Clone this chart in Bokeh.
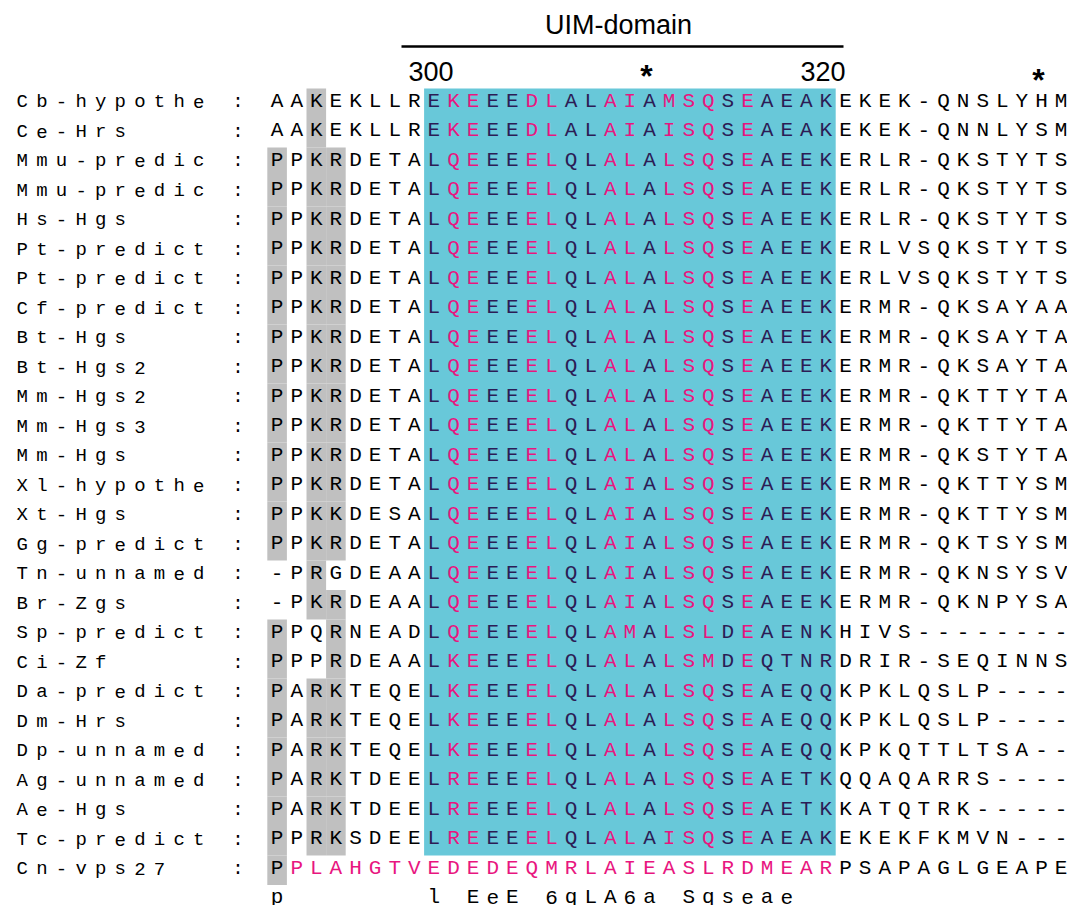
from bokeh.plotting import figure
from bokeh.models import Range1d, ColumnDataSource
from bokeh.embed import file_html
from bokeh.resources import INLINE
from bokeh.core.properties import value

# ---------------- data ----------------
names = ["Cb-hypothe", "Ce-Hrs", "Mmu-predic", "Mmu-predic", "Hs-Hgs",
         "Pt-predict", "Pt-predict", "Cf-predict", "Bt-Hgs", "Bt-Hgs2",
         "Mm-Hgs2", "Mm-Hgs3", "Mm-Hgs", "Xl-hypothe", "Xt-Hgs",
         "Gg-predict", "Tn-unnamed", "Br-Zgs", "Sp-predict", "Ci-Zf",
         "Da-predict", "Dm-Hrs", "Dp-unnamed", "Ag-unnamed", "Ae-Hgs",
         "Tc-predict", "Cn-vps27"]

sequences = [
    "AAKEKLLREKEEEDLALAIAMSQSEAEAKEKEK-QNSLYHM",
    "AAKEKLLREKEEEDLALAIAISQSEAEAKEKEK-QNNLYSM",
    "PPKRDETALQEEEELQLALALSQSEAEEKERLR-QKSTYTS",
    "PPKRDETALQEEEELQLALALSQSEAEEKERLR-QKSTYTS",
    "PPKRDETALQEEEELQLALALSQSEAEEKERLR-QKSTYTS",
    "PPKRDETALQEEEELQLALALSQSEAEEKERLVSQKSTYTS",
    "PPKRDETALQEEEELQLALALSQSEAEEKERLVSQKSTYTS",
    "PPKRDETALQEEEELQLALALSQSEAEEKERMR-QKSAYAA",
    "PPKRDETALQEEEELQLALALSQSEAEEKERMR-QKSAYTA",
    "PPKRDETALQEEEELQLALALSQSEAEEKERMR-QKSAYTA",
    "PPKRDETALQEEEELQLALALSQSEAEEKERMR-QKTTYTA",
    "PPKRDETALQEEEELQLALALSQSEAEEKERMR-QKTTYTA",
    "PPKRDETALQEEEELQLALALSQSEAEEKERMR-QKSTYTA",
    "PPKRDETALQEEEELQLAIALSQSEAEEKERMR-QKTTYSM",
    "PPKKDESALQEEEELQLAIALSQSEAEEKERMR-QKTTYSM",
    "PPKRDETALQEEEELQLAIALSQSEAEEKERMR-QKTSYSM",
    "-PRGDEAALQEEEELQLAIALSQSEAEEKERMR-QKNSYSV",
    "-PKRDEAALQEEEELQLAIALSQSEAEEKERMR-QKNPYSA",
    "PPQRNEADLQEEEELQLAMALSLDEAENKHIVS--------",
    "PPPRDEAALKEEEELQLALALSMDEQTNRDRIR-SEQINNS",
    "PARKTEQELKEEEELQLALALSQSEAEQQKPKLQSLP----",
    "PARKTEQELKEEEELQLALALSQSEAEQQKPKLQSLP----",
    "PARKTEQELKEEEELQLALALSQSEAEQQKPKQTTLTSA--",
    "PARKTDEELREEEELQLALALSQSEAETKQQAQARRS----",
    "PARKTDEELREEEELQLALALSQSEAETKKATQTRK-----",
    "PPRKSDEELREEEELQLALAISQSEAEAKEKEKFKMVN---",
    "PPLAHGTVEDEDEQMRLAIEASLRDMEARPSAPAGLGEAPE",
]

consensus = "p       l EeE 6qLA6a Sqseae"

# shaded (grey) alignment columns for each row
grey_cols = [[2], [2]] + [[0, 2, 3]] * 14 + [[2], [2, 3], [0, 3], [0, 3]] \
    + [[0, 2, 3]] * 6 + [[0]]

# UIM domain block (alignment columns) and the rows it covers
uim_start, uim_end = 8, 29
uim_rows = 26
# conserved positions inside the UIM (offsets from uim_start)
conserved = [1, 2, 5, 6, 9, 10, 12, 13, 14, 16]
# outgroup row: whole UIM stretch coloured
outgroup_row = 26
outgroup_span = (1, 29)

domain_title = "UIM-domain"
ruler_labels = ["300", "*", "320", "*"]
ruler_cols = [8, 19, 28, 39]

# ---------------- layout ----------------
W, H = 1067, 905
PX, PY = 19.6, 29.5          # pixels per column / row
X0, Y0 = 12.0, 102.75        # pixel of column 0 left edge / row 0 centre
SEQ_OFF = 13                 # sequence starts 13 character cells after the name


def dx(px):
    return (px - X0) / PX


def dy(py):
    return (py - Y0) / PY


def shift(fs):
    # empirical drop of the rendered baseline below the requested one
    return 0.35 * fs


p = figure(width=W, height=H, output_backend="svg", toolbar_location=None,
           x_axis_type=None, y_axis_type=None, min_border=0,
           x_range=Range1d(dx(0), dx(W)),
           y_range=Range1d(dy(H), dy(0)))
p.outline_line_color = None
p.xgrid.visible = False
p.ygrid.visible = False
p.background_fill_color = "white"
p.border_fill_color = "white"

CYAN = "#68C8D9"
PINK = "#E8167F"
NAVY = "#2C1C55"
GREY = "#C0C0C0"
SEQ_FONT = "Liberation Mono"
SEQ_FS = 21
NAME_FS = 19

# cyan UIM block
p.quad(left=[SEQ_OFF + uim_start], right=[SEQ_OFF + uim_end],
       top=[-0.5], bottom=[uim_rows - 0.5],
       fill_color=CYAN, line_color=None)

# grey shaded cells
gl, gr, gt, gb = [], [], [], []
for r, cols in enumerate(grey_cols):
    for c in cols:
        gl.append(SEQ_OFF + c); gr.append(SEQ_OFF + c + 1)
        gt.append(r - 0.5); gb.append(r + 0.5)
p.quad(left=gl, right=gr, top=gt, bottom=gb, fill_color=GREY, line_color=None)

# residues
BASE = (5.5 - shift(SEQ_FS)) / PY
xs, ys, ts, cs = [], [], [], []
for r, seq in enumerate(sequences):
    for c, ch in enumerate(seq):
        col = "black"
        if r < uim_rows and uim_start <= c < uim_end:
            col = PINK if (c - uim_start) in conserved else NAVY
        if r == outgroup_row and outgroup_span[0] <= c < outgroup_span[1]:
            col = PINK
        xs.append(SEQ_OFF + c + 0.5); ys.append(r + BASE)
        ts.append(ch); cs.append(col)
for c, ch in enumerate(consensus):
    if ch != " ":
        xs.append(SEQ_OFF + c + 0.5); ys.append(len(sequences) + BASE)
        ts.append(ch); cs.append("black")
src = ColumnDataSource(dict(x=xs, y=ys, text=ts, color=cs))
p.text(x="x", y="y", text="text", source=src, text_color="color",
       text_font=value(SEQ_FONT), text_font_size=f"{SEQ_FS}px",
       text_align="center", text_baseline="alphabetic")

# names and colons
NBASE = (5.5 - shift(NAME_FS)) / PY
nx, ny, nt = [], [], []
for r, nm in enumerate(names):
    for k, ch in enumerate(nm):
        nx.append(k + 0.5); ny.append(r + NBASE); nt.append(ch)
    nx.append(11.5); ny.append(r + NBASE); nt.append(":")
p.text(x=nx, y=ny, text=nt, text_color="black",
       text_font=value(SEQ_FONT), text_font_size=f"{NAME_FS}px",
       text_align="center", text_baseline="alphabetic")

# domain bar and title
p.segment(x0=[dx(401)], x1=[dx(843)], y0=[dy(46)], y1=[dy(46)],
          line_color="black", line_width=2.5)
TFS = 27
p.text(x=[dx(618)], y=[dy(34 - shift(TFS))], text=[domain_title],
       text_color="black", text_font=value("Liberation Sans"),
       text_font_size=f"{TFS}px", text_align="center",
       text_baseline="alphabetic")

# ruler (numbers and stars)
num_x, num_y, num_t, st_x, st_y, st_t = [], [], [], [], [], []
STFS = 32
star_centres = [68, 72]
for lab, c in zip(ruler_labels, ruler_cols):
    xpos = SEQ_OFF + c + 0.5 - 3.0 / PX
    if lab == "*":
        yc = star_centres[len(st_x)]
        st_x.append(xpos); st_t.append(lab)
        st_y.append(dy(yc + 0.58 * STFS - shift(STFS)))
    else:
        num_x.append(xpos); num_t.append(lab)
        num_y.append(dy(80 - shift(TFS)))
p.text(x=num_x, y=num_y, text=num_t, text_color="black",
       text_font=value("Liberation Sans"), text_font_size=f"{TFS}px",
       text_align="center", text_baseline="alphabetic")
p.text(x=st_x, y=st_y, text=st_t, text_color="black",
       text_font=value("Liberation Sans"), text_font_size=f"{STFS}px",
       text_font_style="bold", text_align="center",
       text_baseline="alphabetic")

open("out.html", "w").write(file_html(p, INLINE))
